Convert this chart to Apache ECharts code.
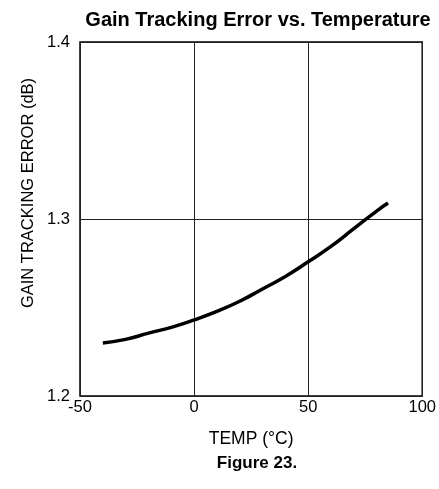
<!DOCTYPE html>
<html>
<head>
<meta charset="utf-8">
<script src="https://cdn.jsdelivr.net/npm/echarts@6/dist/echarts.min.js"></script>
<style>
  html, body { margin: 0; padding: 0; background: #fff; }
  #chart { width: 439px; height: 489px; }
</style>
</head>
<body>
<div id="chart"></div>
<script>
// temperature (°C) and gain tracking error (dB)
const temps = [-40, -30, -20, -10, 0, 10, 20, 30, 40, 50, 60, 70, 80, 85];
const gainError = [1.230, 1.232, 1.2355, 1.2388, 1.243, 1.2478, 1.2535, 1.2605, 1.2675, 1.2758, 1.2845, 1.2945, 1.3045, 1.309];
const xTicks = [-50, 0, 50, 100];
const yTicks = [1.2, 1.3, 1.4];

const font = "Liberation Sans, Arial, sans-serif";
const chart = echarts.init(document.getElementById("chart"));

chart.setOption({
  animation: false,
  title: [
    {
      text: "Gain Tracking Error vs. Temperature",
      left: 253,
      top: 5,
      textAlign: "center",
      textStyle: { fontFamily: font, fontSize: 20, fontWeight: "bold", color: "#000" },
    },
    {
      text: "Figure 23.",
      left: 252,
      top: 450,
      textAlign: "center",
      textStyle: { fontFamily: font, fontSize: 17, fontWeight: "bold", color: "#000" },
    },
  ],
  graphic: [
    {
      type: "text",
      x: 28,
      y: 193,
      rotation: Math.PI / 2,
      style: {
        text: "GAIN TRACKING ERROR (dB)",
        font: "16.5px " + font,
        fill: "#000",
        align: "center",
        verticalAlign: "middle",
      },
    },
  ],
  grid: {
    left: 80,
    right: 16,
    top: 42,
    bottom: 93,
    show: true,
    borderColor: "#000",
    borderWidth: 1.5,
  },
  xAxis: {
    type: "value",
    min: xTicks[0],
    max: xTicks[xTicks.length - 1],
    interval: 50,
    name: "TEMP (°C)",
    nameLocation: "middle",
    nameGap: 34,
    nameTextStyle: { fontFamily: font, fontSize: 17.5, color: "#000" },
    axisLine: { show: false },
    axisTick: { show: false },
    axisLabel: { fontFamily: font, fontSize: 16.5, color: "#000", margin: 3 },
    splitLine: { show: true, lineStyle: { color: "#222", width: 1 } },
  },
  yAxis: {
    type: "value",
    min: yTicks[0],
    max: yTicks[yTicks.length - 1],
    interval: 0.1,
    axisLine: { show: false },
    axisTick: { show: false },
    axisLabel: {
      fontFamily: font,
      fontSize: 16.5,
      color: "#000",
      margin: 10,
      formatter: (v) => v.toFixed(1),
    },
    splitLine: { show: true, lineStyle: { color: "#222", width: 1 } },
  },
  series: [
    {
      type: "line",
      data: temps.map((t, i) => [t, gainError[i]]),
      smooth: true,
      showSymbol: false,
      lineStyle: { color: "#000", width: 3.5 },
    },
  ],
});
</script>
</body>
</html>
